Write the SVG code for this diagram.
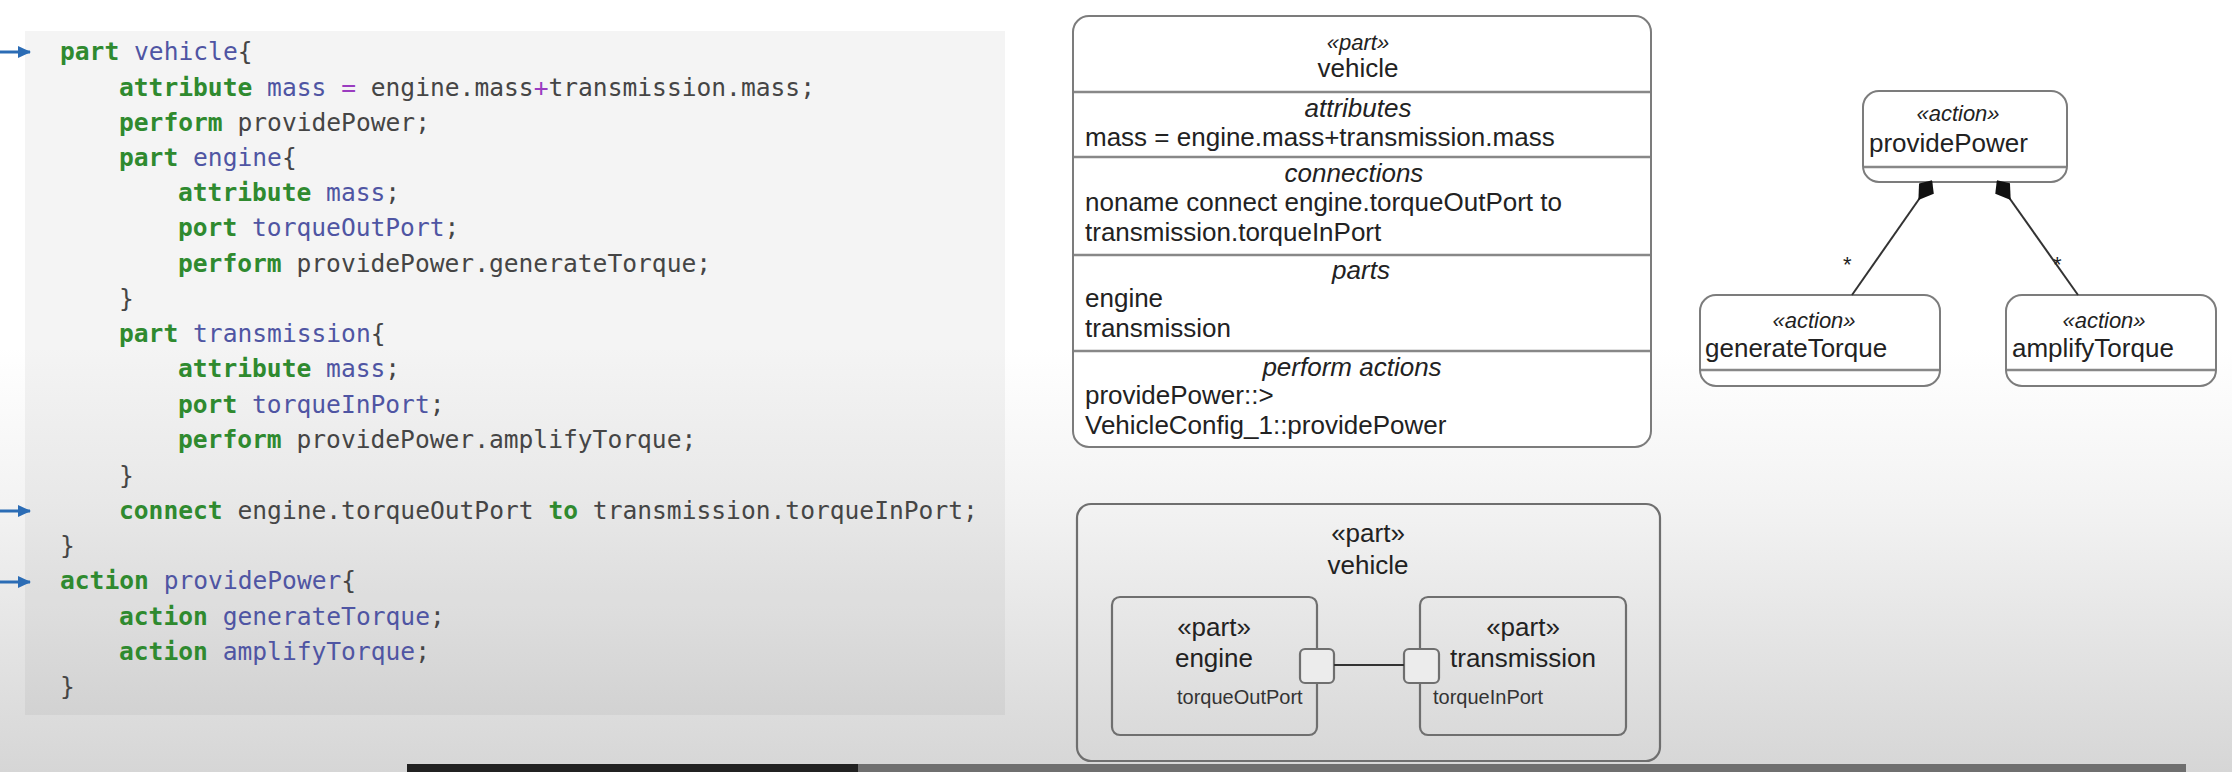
<svg xmlns="http://www.w3.org/2000/svg" width="2232" height="772" viewBox="0 0 2232 772">
<defs>
<linearGradient id="bg" x1="0" y1="0" x2="0" y2="772" gradientUnits="userSpaceOnUse">
<stop offset="0" stop-color="#ffffff"/>
<stop offset="0.45" stop-color="#ffffff"/>
<stop offset="0.65" stop-color="#f3f3f3"/>
<stop offset="1" stop-color="#d6d6d6"/>
</linearGradient>
<marker id="diamond" markerUnits="userSpaceOnUse" markerWidth="26" markerHeight="20" refX="2" refY="10" orient="auto" viewBox="0 0 26 20">
<polygon points="0,10 10,1 24,10 10,19" fill="#111"/>
</marker>
<marker id="arr" markerUnits="userSpaceOnUse" markerWidth="14" markerHeight="14" refX="12" refY="7" orient="auto" viewBox="0 0 14 14">
<polygon points="0,1 13,7 0,13" fill="#2b6cb5"/>
</marker>
</defs>
<style>
.code{font-family:"DejaVu Sans Mono","Liberation Mono",monospace;font-size:24.6px;white-space:pre;fill:#454545}
.kw{fill:#2f8a2f;font-weight:bold}
.id{fill:#4f55a3}
.op{fill:#9a3cc0}
.box{fill:#ffffff;stroke:#7c7c7c;stroke-width:2}
.open{fill:none;stroke:#6f6f6f;stroke-width:2.2}
.div{stroke:#888;stroke-width:2.5}
.t{font-family:"Liberation Sans",Arial,sans-serif;font-size:26px;fill:#222}
.st{font-family:"Liberation Sans",Arial,sans-serif;font-size:22px;font-style:italic;fill:#222}
.h{font-family:"Liberation Sans",Arial,sans-serif;font-size:26px;font-style:italic;fill:#222}
.sm{font-family:"Liberation Sans",Arial,sans-serif;font-size:20px;fill:#333}
.star{font-family:"Liberation Sans",Arial,sans-serif;font-size:22px;fill:#222}
.c{text-anchor:middle}
.ln{stroke:#333;stroke-width:2;fill:none}
</style>
<rect x="0" y="0" width="2232" height="772" fill="url(#bg)"/>

<g id="code-panel">
<rect x="25" y="31" width="980" height="684" fill="#000" fill-opacity="0.045"/>
<line x1="0" y1="52" x2="30" y2="52" stroke="#2b6cb5" stroke-width="3" marker-end="url(#arr)"/>
<line x1="0" y1="511" x2="30" y2="511" stroke="#2b6cb5" stroke-width="3" marker-end="url(#arr)"/>
<line x1="0" y1="582" x2="30" y2="582" stroke="#2b6cb5" stroke-width="3" marker-end="url(#arr)"/>
<text class="code" x="60" y="60"><tspan class="kw">part</tspan><tspan class="id"> vehicle</tspan>{</text>
<text class="code" x="119" y="96"><tspan class="kw">attribute</tspan><tspan class="id"> mass</tspan> <tspan class="op">=</tspan> engine.mass<tspan class="op">+</tspan>transmission.mass;</text>
<text class="code" x="119" y="131"><tspan class="kw">perform</tspan> providePower;</text>
<text class="code" x="119" y="166"><tspan class="kw">part</tspan><tspan class="id"> engine</tspan>{</text>
<text class="code" x="178" y="201"><tspan class="kw">attribute</tspan><tspan class="id"> mass</tspan>;</text>
<text class="code" x="178" y="236"><tspan class="kw">port</tspan><tspan class="id"> torqueOutPort</tspan>;</text>
<text class="code" x="178" y="272"><tspan class="kw">perform</tspan> providePower.generateTorque;</text>
<text class="code" x="119" y="307">}</text>
<text class="code" x="119" y="342"><tspan class="kw">part</tspan><tspan class="id"> transmission</tspan>{</text>
<text class="code" x="178" y="377"><tspan class="kw">attribute</tspan><tspan class="id"> mass</tspan>;</text>
<text class="code" x="178" y="413"><tspan class="kw">port</tspan><tspan class="id"> torqueInPort</tspan>;</text>
<text class="code" x="178" y="448"><tspan class="kw">perform</tspan> providePower.amplifyTorque;</text>
<text class="code" x="119" y="484">}</text>
<text class="code" x="119" y="519"><tspan class="kw">connect</tspan> engine.torqueOutPort <tspan class="kw">to</tspan> transmission.torqueInPort;</text>
<text class="code" x="60" y="554">}</text>
<text class="code" x="60" y="589"><tspan class="kw">action</tspan><tspan class="id"> providePower</tspan>{</text>
<text class="code" x="119" y="625"><tspan class="kw">action</tspan><tspan class="id"> generateTorque</tspan>;</text>
<text class="code" x="119" y="660"><tspan class="kw">action</tspan><tspan class="id"> amplifyTorque</tspan>;</text>
<text class="code" x="60" y="695">}</text>
</g>

<g id="vehicle-block">
<rect class="box" x="1073" y="16" width="578" height="431" rx="16"/>
<line class="div" x1="1074" y1="92" x2="1650" y2="92"/>
<line class="div" x1="1074" y1="157" x2="1650" y2="157"/>
<line class="div" x1="1074" y1="255" x2="1650" y2="255"/>
<line class="div" x1="1074" y1="351" x2="1650" y2="351"/>
<text class="st c" x="1358" y="50">«part»</text>
<text class="t c" x="1358" y="77">vehicle</text>
<text class="h c" x="1358" y="117">attributes</text>
<text class="t" x="1085" y="146">mass = engine.mass+transmission.mass</text>
<text class="h c" x="1354" y="182">connections</text>
<text class="t" x="1085" y="211">noname connect engine.torqueOutPort to</text>
<text class="t" x="1085" y="241">transmission.torqueInPort</text>
<text class="h c" x="1361" y="279">parts</text>
<text class="t" x="1085" y="307">engine</text>
<text class="t" x="1085" y="337">transmission</text>
<text class="h c" x="1352" y="376">perform actions</text>
<text class="t" x="1085" y="404">providePower::&gt;</text>
<text class="t" x="1085" y="434">VehicleConfig_1::providePower</text>
</g>

<g id="vehicle-ibd">
<rect class="open" x="1077" y="504" width="583" height="257" rx="14"/>
<text class="t c" x="1368" y="542">«part»</text>
<text class="t c" x="1368" y="574">vehicle</text>
</g>
<g id="engine">
<rect class="open" x="1112" y="597" width="205" height="138" rx="8"/>
<text class="t c" x="1214" y="636">«part»</text>
<text class="t c" x="1214" y="667">engine</text>
<text class="sm" x="1177" y="704">torqueOutPort</text>
</g>
<g id="transmission">
<rect class="open" x="1420" y="597" width="206" height="138" rx="8"/>
<text class="t c" x="1523" y="636">«part»</text>
<text class="t c" x="1523" y="667">transmission</text>
<text class="sm" x="1433" y="704">torqueInPort</text>
</g>
<g id="torqueOutPort">
<rect x="1300" y="649" width="34" height="34" rx="5" fill="#ececec" stroke="#6f6f6f" stroke-width="2.2"/>
</g>
<g id="torqueInPort">
<rect x="1404" y="649" width="35" height="34" rx="5" fill="#ececec" stroke="#6f6f6f" stroke-width="2.2"/>
</g>

<g id="providePower">
<rect class="box" x="1863" y="91" width="204" height="91" rx="16"/>
<line class="div" x1="1864" y1="167" x2="2066" y2="167"/>
<text class="st c" x="1958" y="121">«action»</text>
<text class="t" x="1869" y="152">providePower</text>
</g>
<g id="generateTorque">
<rect class="box" x="1700" y="295" width="240" height="91" rx="16"/>
<line class="div" x1="1701" y1="370" x2="1939" y2="370"/>
<text class="st c" x="1814" y="328">«action»</text>
<text class="t" x="1705" y="357">generateTorque</text>
</g>
<g id="amplifyTorque">
<rect class="box" x="2006" y="295" width="210" height="91" rx="16"/>
<line class="div" x1="2007" y1="370" x2="2215" y2="370"/>
<text class="st c" x="2104" y="328">«action»</text>
<text class="t" x="2012" y="357">amplifyTorque</text>
</g>

<g id="connectors">
<line class="ln" x1="1334" y1="665" x2="1404" y2="665"/>
<path class="ln" d="M1931,182 L1852,295" marker-start="url(#diamond)"/>
<path class="ln" d="M1998,182 L2078,295" marker-start="url(#diamond)"/>
<text class="star" x="1843" y="272">*</text>
<text class="star" x="2053" y="272">*</text>
</g>

<g id="player-bar">
<rect x="407" y="764" width="451" height="8" fill="#212121"/>
<rect x="858" y="764" width="1328" height="8" fill="#6f6f6f"/>
</g>
</svg>
